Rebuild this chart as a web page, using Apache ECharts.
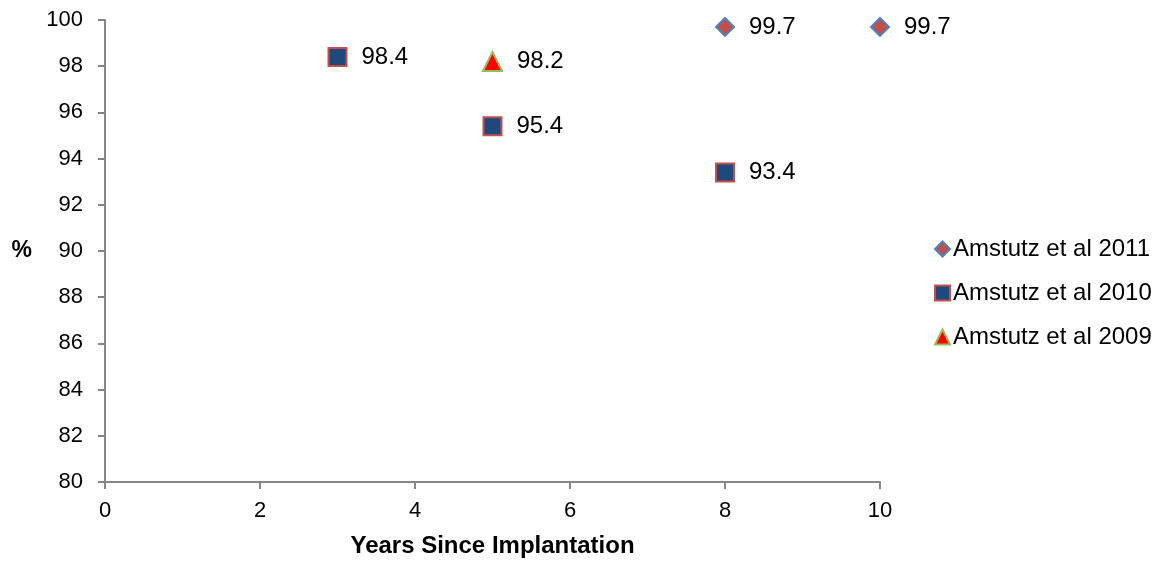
<!DOCTYPE html>
<html><head><meta charset="utf-8">
<script src="https://cdn.jsdelivr.net/npm/echarts@6/dist/echarts.min.js"></script>
<style>html,body{margin:0;padding:0;background:#fff}#c{width:1156px;height:563px}</style>
</head><body><div id="c"></div>
<script>
var seriesNames = ['Amstutz et al 2011', 'Amstutz et al 2010', 'Amstutz et al 2009'];
var data2011 = [[8, 99.7], [10, 99.7]];
var data2010 = [[3, 98.4], [5, 95.4], [8, 93.4]];
var data2009 = [[5, 98.2]];
var xTicks = [0, 2, 4, 6, 8, 10];
var yTicks = [80, 82, 84, 86, 88, 90, 92, 94, 96, 98, 100];

var font = 'Liberation Sans, Arial, sans-serif';
var label = {show: true, position: 'right', distance: 14, fontSize: 24, color: '#000', fontFamily: font,
  formatter: function (p) { return p.value[1].toFixed(1); }};
var chart = echarts.init(document.getElementById('c'));
chart.setOption({
  animation: false,
  grid: {left: 105, right: 276, top: 20, bottom: 80, containLabel: false},
  xAxis: {type: 'value', min: xTicks[0], max: xTicks[xTicks.length - 1], interval: 2,
    name: 'Years Since Implantation', nameLocation: 'middle', nameGap: 52,
    nameTextStyle: {fontSize: 24, fontWeight: 'bold', color: '#000', fontFamily: font},
    axisLine: {show: true, lineStyle: {color: '#868686', width: 2}},
    axisTick: {show: true, inside: false, length: 7, lineStyle: {color: '#868686', width: 2}},
    axisLabel: {fontSize: 22, color: '#000', fontFamily: font, margin: 18},
    splitLine: {show: false}},
  yAxis: {type: 'value', min: yTicks[0], max: yTicks[yTicks.length - 1], interval: 2,
    name: '%', nameLocation: 'middle', nameGap: 73, nameRotate: 0,
    nameTextStyle: {fontSize: 23, fontWeight: 'bold', color: '#000', fontFamily: font, padding: [12, 0, 0, 0]},
    axisLine: {show: true, lineStyle: {color: '#868686', width: 2}},
    axisTick: {show: true, inside: false, length: 7, lineStyle: {color: '#868686', width: 2}},
    axisLabel: {fontSize: 22, color: '#000', fontFamily: font, margin: 22},
    splitLine: {show: false}},
  legend: {orient: 'vertical', left: 934, top: 237, padding: 0, itemGap: 20, itemWidth: 15, itemHeight: 15,
    textStyle: {fontSize: 24, color: '#000', fontFamily: font, padding: [0, 0, 0, -2]},
    data: [
      {name: seriesNames[0], icon: 'diamond'},
      {name: seriesNames[1], icon: 'rect'},
      {name: seriesNames[2], icon: 'triangle'}]},
  series: [
    {name: seriesNames[0], type: 'scatter', data: data2011, symbol: 'diamond', symbolSize: 18,
      itemStyle: {color: '#C0504D', borderColor: '#4F81BD', borderWidth: 2, opacity: 1}, label: label},
    {name: seriesNames[1], type: 'scatter', data: data2010, symbol: 'rect', symbolSize: 18,
      itemStyle: {color: '#1F497D', borderColor: '#C0504D', borderWidth: 2, opacity: 1}, label: label},
    {name: seriesNames[2], type: 'scatter', data: data2009, symbol: 'triangle', symbolSize: 19,
      itemStyle: {color: '#FF0000', borderColor: '#9BBB59', borderWidth: 2, opacity: 1}, label: label}
  ]
});
</script></body></html>
